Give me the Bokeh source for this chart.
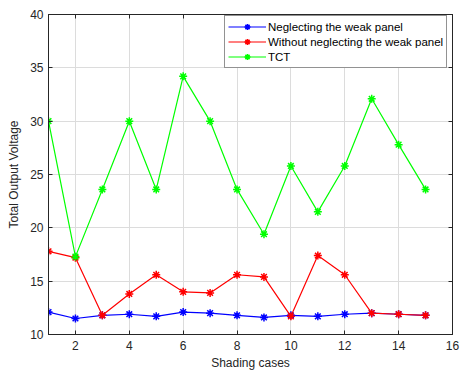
from bokeh.plotting import figure
from bokeh.models import Range1d, LinearAxis, FixedTicker, Legend, LegendItem
from bokeh.embed import file_html
from bokeh.resources import INLINE

cases = list(range(1, 16))
neglecting = [12.1, 11.5, 11.8, 11.9, 11.7, 12.1, 12.0, 11.8, 11.6, 11.8, 11.7, 11.9, 12.0, 11.9, 11.8]
without_neglecting = [17.8, 17.2, 11.8, 13.8, 15.6, 14.0, 13.9, 15.6, 15.4, 11.7, 17.4, 15.6, 12.0, 11.9, 11.8]
tct = [30.0, 17.3, 23.6, 30.0, 23.6, 34.2, 30.0, 23.6, 19.4, 25.8, 21.5, 25.8, 32.1, 27.8, 23.6]
x_ticks = [2, 4, 6, 8, 10, 12, 14, 16]
y_ticks = [10, 15, 20, 25, 30, 35, 40]

FONT = "Liberation Sans"
TXT = "#262626"

p = figure(width=460, height=375, output_backend="svg", toolbar_location=None,
           x_range=Range1d(1, 16), y_range=Range1d(10, 40),
           min_border_left=48, min_border_right=8, min_border_top=14, min_border_bottom=41)

p.outline_line_color = "#262626"
p.outline_line_width = 1
p.background_fill_color = "white"
p.border_fill_color = "white"

for ax in (p.xaxis[0], p.yaxis[0]):
    ax.major_tick_in = 4
    ax.major_tick_out = 0
    ax.minor_tick_line_color = None
    ax.axis_line_color = "#262626"
    ax.major_tick_line_color = "#262626"
    ax.major_label_text_font = FONT
    ax.major_label_text_font_size = "12px"
    ax.major_label_text_color = TXT
    ax.axis_label_text_font = FONT
    ax.axis_label_text_font_size = "12px"
    ax.axis_label_text_font_style = "normal"
    ax.axis_label_text_color = TXT

p.xaxis.ticker = FixedTicker(ticks=x_ticks)
p.yaxis.ticker = FixedTicker(ticks=y_ticks)
p.xaxis.axis_label = "Shading cases"
p.yaxis.axis_label = "Total Output Voltage"
p.xaxis.axis_label_standoff = 3
p.yaxis.axis_label_standoff = 6
p.xaxis.major_label_standoff = 6
p.yaxis.major_label_standoff = 5

# top and right box axes with inward ticks, no labels
top = LinearAxis(ticker=FixedTicker(ticks=x_ticks),
                 major_label_overrides={t: "" for t in x_ticks},
                 major_tick_in=4, major_tick_out=0, minor_tick_line_color=None,
                 axis_line_color="#262626", major_tick_line_color="#262626",
                 major_label_standoff=0)
right = LinearAxis(ticker=FixedTicker(ticks=y_ticks),
                   major_label_overrides={t: "" for t in y_ticks},
                   major_tick_in=4, major_tick_out=0, minor_tick_line_color=None,
                   axis_line_color="#262626", major_tick_line_color="#262626",
                   major_label_standoff=0)
p.add_layout(top, "above")
p.add_layout(right, "right")

p.grid.grid_line_color = "#dcdcdc"
p.grid.grid_line_alpha = 1.0
p.xgrid.ticker = FixedTicker(ticks=x_ticks)
p.ygrid.ticker = FixedTicker(ticks=y_ticks)

items = []
for ys, col, name in [(neglecting, "#0000ff", "Neglecting the weak panel"),
                      (without_neglecting, "#ff0000", "Without neglecting the weak panel"),
                      (tct, "#00ff00", "TCT")]:
    r1 = p.line(cases, ys, line_color=col, line_width=1.2)
    r2 = p.scatter(cases, ys, marker="asterisk", size=8, line_color=col, line_width=1.5)
    items.append(LegendItem(label=name, renderers=[r1, r2]))

legend = Legend(items=items, location=(176, 266))
legend.label_text_font = FONT
legend.label_text_font_size = "11.5px"
legend.label_text_color = "#000000"
legend.border_line_color = "#262626"
legend.border_line_width = 1
legend.margin = 0
legend.padding = 3
legend.spacing = 0
legend.glyph_width = 38
legend.glyph_height = 15
legend.label_height = 15
legend.label_standoff = 2
legend.background_fill_alpha = 1.0
p.add_layout(legend, "center")

open("out.html", "w").write(file_html(p, INLINE))
